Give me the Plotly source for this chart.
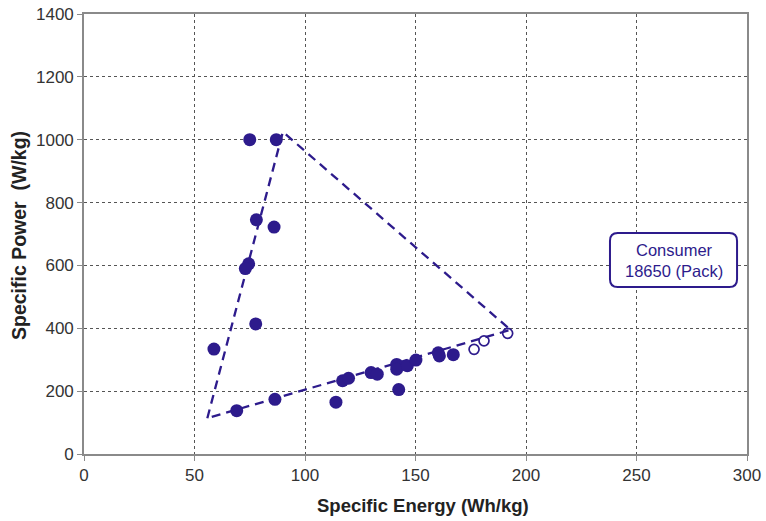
import plotly.graph_objects as go

# Cell data: specific energy (Wh/kg) vs specific power (W/kg)
energy_filled = [75, 87, 78, 86, 74.5, 73, 77.7, 58.8, 69.1, 86.4, 114, 117, 119.7,
                 129.9, 132.7, 141.5, 141.5, 142.4, 146.3, 150.2, 160.3, 160.8, 167.1]
power_filled = [1000, 1000, 745, 722, 605, 590, 414, 334, 138, 174, 165, 233, 241,
                259, 254, 285, 270, 205, 281, 299, 322, 312, 316]

energy_open = [176.5, 181, 191.7]
power_open = [333, 360, 384]

# Envelope triangle (closed)
env_energy = [55.8, 90, 193, 55.8]
env_power = [114, 1025, 395, 114]

x_ticks = [0, 50, 100, 150, 200, 250, 300]
y_ticks = [0, 200, 400, 600, 800, 1000, 1200, 1400]

x_title = "Specific Energy (Wh/kg)"
y_title = "Specific Power  (W/kg)"

label_lines = ["Consumer", "18650 (Pack)"]
label_box_x = [238, 295.5]
label_box_y = [531, 703]

navy = "#2D1B8C"
font = "Liberation Sans, Arial, sans-serif"

fig = go.Figure()

fig.add_trace(go.Scatter(
    x=env_energy, y=env_power, mode="lines",
    line=dict(color=navy, width=2.3, dash="9px,6px"),
    hoverinfo="skip", showlegend=False,
))
fig.add_trace(go.Scatter(
    x=energy_filled, y=power_filled, mode="markers",
    marker=dict(color=navy, size=13, line=dict(width=0)),
    showlegend=False,
))
fig.add_trace(go.Scatter(
    x=energy_open, y=power_open, mode="markers",
    marker=dict(symbol="circle-open", color=navy, size=10, line=dict(width=1.7)),
    showlegend=False,
))

# Rounded label box
x0, x1 = label_box_x
y0, y1 = label_box_y
rx, ry = 3.5, 25
path = (f"M {x0+rx},{y0} L {x1-rx},{y0} Q {x1},{y0} {x1},{y0+ry} "
        f"L {x1},{y1-ry} Q {x1},{y1} {x1-rx},{y1} L {x0+rx},{y1} "
        f"Q {x0},{y1} {x0},{y1-ry} L {x0},{y0+ry} Q {x0},{y0} {x0+rx},{y0} Z")
fig.add_shape(type="path", path=path, xref="x", yref="y",
              line=dict(color=navy, width=2), fillcolor="white", layer="above")
fig.add_annotation(
    x=(x0 + x1) / 2, y=(y0 + y1) / 2, xref="x", yref="y",
    text="<br>".join(label_lines), showarrow=False,
    font=dict(family=font, size=16.5, color=navy), align="center",
)

# Axis titles
fig.add_annotation(
    x=0.512, y=-0.116, xref="paper", yref="paper", xanchor="center", yanchor="middle",
    text=f"<b>{x_title}</b>", showarrow=False,
    font=dict(family=font, size=18.5, color="#222222"),
)
fig.add_annotation(
    x=-0.098, y=0.4955, xref="paper", yref="paper", xanchor="center", yanchor="middle",
    text=f"<b>{y_title}</b>", showarrow=False, textangle=-90,
    font=dict(family=font, size=19.5, color="#222222"),
)

axis_common = dict(
    showline=True, linecolor="#8a8a8a", linewidth=1.6, mirror=True,
    showgrid=True, gridcolor="#555555", griddash="dot", gridwidth=1,
    ticks="outside", tickcolor="#8a8a8a", ticklen=5,
    tickfont=dict(family=font, size=17, color="#333333"),
    zeroline=False, automargin=False,
)

fig.update_layout(
    width=766, height=521,
    margin=dict(l=84, r=19, t=14, b=67),
    paper_bgcolor="white", plot_bgcolor="white",
    xaxis=dict(range=[0, 300], tickvals=x_ticks, **axis_common),
    yaxis=dict(range=[0, 1400], tickvals=y_ticks, **axis_common),
)

fig.write_html("out.html")
